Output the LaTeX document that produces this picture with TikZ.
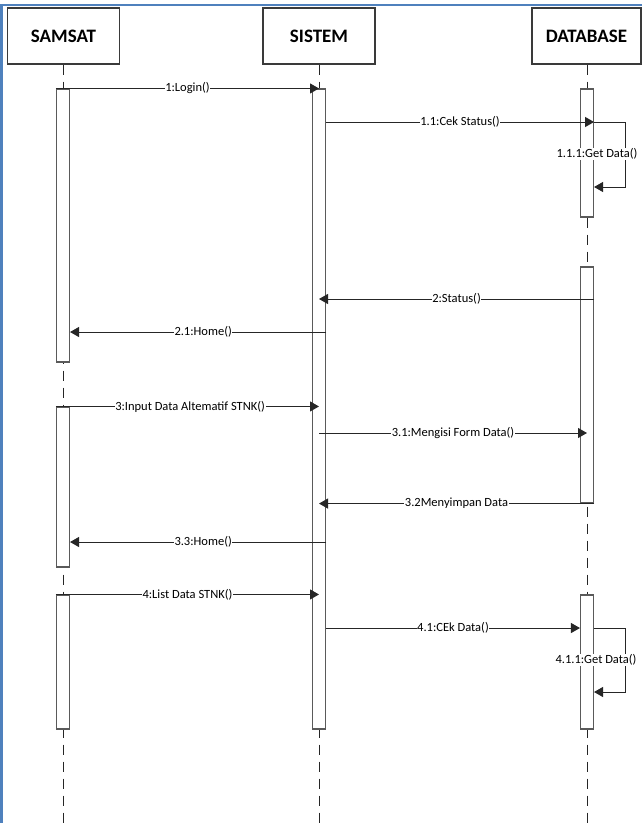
\documentclass[tikz,border=0pt]{standalone}
\usepackage{fontspec}
\setmainfont{Carlito}
\usetikzlibrary{arrows.meta,calc}
\definecolor{frameblue}{HTML}{4F81BD}
\definecolor{boxgray}{HTML}{3A3A3A}
\definecolor{actgray}{HTML}{5A5A5A}
\tikzset{
  headbox/.style={draw=boxgray, line width=1.1pt, fill=white, minimum width=112pt, minimum height=56pt, inner sep=0pt, font=\fontsize{19}{21}\selectfont\bfseries},
  lifeline/.style={draw=black!85, line width=0.9pt, dash pattern=on 10pt off 7pt},
  actbox/.style={draw=actgray, line width=1.1pt, fill=white, minimum width=13pt, inner sep=0pt},
  msg/.style={draw=black!85, line width=1pt, -{Triangle[length=9pt,width=10pt]}},
  msglabel/.style={fill=white, inner sep=0.6pt, font=\fontsize{12.5}{13}\selectfont},
}
\begin{document}
\begin{tikzpicture}[x=1pt,y=-1pt]
\useasboundingbox (0,0) rectangle (642,823);
\fill[white] (0,0) rectangle (642,823);
% frame
\draw[frameblue, line width=2.2pt] (1.5,823) -- (1.5,5) -- (642,5);
% headers
\node[headbox] (samsat) at (63.5,36) {SAMSAT};
\node[headbox] (sistem) at (319,36) {SISTEM};
\node[headbox, minimum width=109pt] (db) at (586.5,36) {DATABASE};
% lifelines
\coordinate (samsatend) at (63,823);
\coordinate (sistemend) at (319,823);
\coordinate (dbend) at (587,823);
\draw[lifeline] (samsat.south -| samsatend) -- (samsatend);
\draw[lifeline] (sistem.south -| sistemend) -- (sistemend);
\draw[lifeline] (db.south -| dbend) -- (dbend);
% activations
\node[actbox, minimum height=273pt] (sa1) at (63,225.5) {};
\node[actbox, minimum height=160pt] (sa2) at (63,487) {};
\node[actbox, minimum height=134pt] (sa3) at (63,662) {};
\node[actbox, minimum height=640pt] (si1) at (319,409) {};
\node[actbox, minimum height=128pt] (db1) at (587,153) {};
\node[actbox, minimum height=236pt] (db2) at (587,385) {};
\node[actbox, minimum height=134pt] (db3) at (587,662) {};
% messages
\draw[msg] (sa1.north west) -- (si1.north)
  node[msglabel, pos=0.5] {1:Login()};
\draw[msg] (si1.east |- 0,122) -- (db1.east |- 0,122)
  node[msglabel, pos=0.5] {1.1:Cek Status()};
\draw[msg] (db1.east |- 0,122) -- ++(31,0) |- (db1.east |- 0,187);
\node[msglabel] (l111) at (597,154) {1.1.1:Get Data()};
\draw[msg] (db2.east |- 0,299) -- (si1 |- 0,299)
  node[msglabel, pos=0.5] {2:Status()};
\draw[msg] (si1.east |- 0,332) -- (sa1.east |- 0,332)
  node[msglabel, pos=0.48] {2.1:Home()};
\draw[msg] (sa2.north west) -- (si1 |- sa2.north)
  node[msglabel, pos=0.51] {3:Input Data Altematif STNK()};
\draw[msg] (si1 |- 0,433) -- (db2 |- 0,433)
  node[msglabel, pos=0.5] {3.1:Mengisi Form Data()};
\draw[msg] (db2.south east) -- (si1 |- db2.south)
  node[msglabel, pos=0.5] {3.2Menyimpan Data};
\draw[msg] (si1.east |- 0,542) -- (sa2.east |- 0,542)
  node[msglabel, pos=0.48] {3.3:Home()};
\draw[msg] (sa3.north west) -- (si1 |- sa3.north)
  node[msglabel, pos=0.5] {4:List Data STNK()};
\draw[msg] (si1.east |- 0,628) -- (db3.west |- 0,628)
  node[msglabel, pos=0.5] {4.1:CEk Data()};
\draw[msg] (db3.east |- 0,628) -- ++(31,0) |- (db3.east |- 0,692);
\node[msglabel] (l411) at (596,660) {4.1.1:Get Data()};
\end{tikzpicture}
\end{document}
